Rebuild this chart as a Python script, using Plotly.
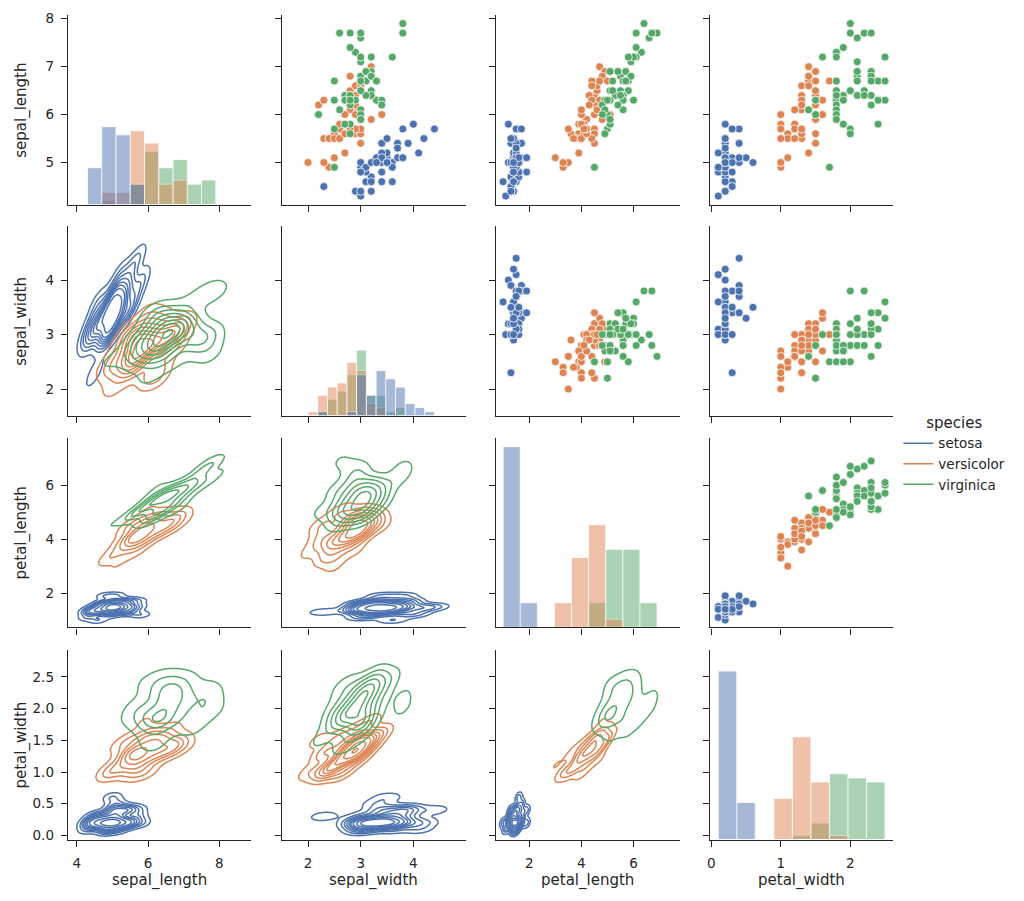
import numpy as np
import plotly.graph_objects as go

# ---------------- data (Fisher's iris, as in seaborn's iris.csv) ----------------
sepal_length = [
    5.1, 4.9, 4.7, 4.6, 5.0, 5.4, 4.6, 5.0, 4.4, 4.9, 5.4, 4.8, 4.8, 4.3, 5.8, 5.7, 5.4, 5.1, 5.7, 5.1,
    5.4, 5.1, 4.6, 5.1, 4.8, 5.0, 5.0, 5.2, 5.2, 4.7, 4.8, 5.4, 5.2, 5.5, 4.9, 5.0, 5.5, 4.9, 4.4, 5.1,
    5.0, 4.5, 4.4, 5.0, 5.1, 4.8, 5.1, 4.6, 5.3, 5.0,
    7.0, 6.4, 6.9, 5.5, 6.5, 5.7, 6.3, 4.9, 6.6, 5.2, 5.0, 5.9, 6.0, 6.1, 5.6, 6.7, 5.6, 5.8, 6.2, 5.6,
    5.9, 6.1, 6.3, 6.1, 6.4, 6.6, 6.8, 6.7, 6.0, 5.7, 5.5, 5.5, 5.8, 6.0, 5.4, 6.0, 6.7, 6.3, 5.6, 5.5,
    5.5, 6.1, 5.8, 5.0, 5.6, 5.7, 5.7, 6.2, 5.1, 5.7,
    6.3, 5.8, 7.1, 6.3, 6.5, 7.6, 4.9, 7.3, 6.7, 7.2, 6.5, 6.4, 6.8, 5.7, 5.8, 6.4, 6.5, 7.7, 7.7, 6.0,
    6.9, 5.6, 7.7, 6.3, 6.7, 7.2, 6.2, 6.1, 6.4, 7.2, 7.4, 7.9, 6.4, 6.3, 6.1, 7.7, 6.3, 6.4, 6.0, 6.9,
    6.7, 6.9, 5.8, 6.8, 6.7, 6.7, 6.3, 6.5, 6.2, 5.9,
]
sepal_width = [
    3.5, 3.0, 3.2, 3.1, 3.6, 3.9, 3.4, 3.4, 2.9, 3.1, 3.7, 3.4, 3.0, 3.0, 4.0, 4.4, 3.9, 3.5, 3.8, 3.8,
    3.4, 3.7, 3.6, 3.3, 3.4, 3.0, 3.4, 3.5, 3.4, 3.2, 3.1, 3.4, 4.1, 4.2, 3.1, 3.2, 3.5, 3.6, 3.0, 3.4,
    3.5, 2.3, 3.2, 3.5, 3.8, 3.0, 3.8, 3.2, 3.7, 3.3,
    3.2, 3.2, 3.1, 2.3, 2.8, 2.8, 3.3, 2.4, 2.9, 2.7, 2.0, 3.0, 2.2, 2.9, 2.9, 3.1, 3.0, 2.7, 2.2, 2.5,
    3.2, 2.8, 2.5, 2.8, 2.9, 3.0, 2.8, 3.0, 2.9, 2.6, 2.4, 2.4, 2.7, 2.7, 3.0, 3.4, 3.1, 2.3, 3.0, 2.5,
    2.6, 3.0, 2.6, 2.3, 2.7, 3.0, 2.9, 2.9, 2.5, 2.8,
    3.3, 2.7, 3.0, 2.9, 3.0, 3.0, 2.5, 2.9, 2.5, 3.6, 3.2, 2.7, 3.0, 2.5, 2.8, 3.2, 3.0, 3.8, 2.6, 2.2,
    3.2, 2.8, 2.8, 2.7, 3.3, 3.2, 2.8, 3.0, 2.8, 3.0, 2.8, 3.8, 2.8, 2.8, 2.6, 3.0, 3.4, 3.1, 3.0, 3.1,
    3.1, 3.1, 2.7, 3.2, 3.3, 3.0, 2.5, 3.0, 3.4, 3.0,
]
petal_length = [
    1.4, 1.4, 1.3, 1.5, 1.4, 1.7, 1.4, 1.5, 1.4, 1.5, 1.5, 1.6, 1.4, 1.1, 1.2, 1.5, 1.3, 1.4, 1.7, 1.5,
    1.7, 1.5, 1.0, 1.7, 1.9, 1.6, 1.6, 1.5, 1.4, 1.6, 1.6, 1.5, 1.5, 1.4, 1.5, 1.2, 1.3, 1.4, 1.3, 1.5,
    1.3, 1.3, 1.3, 1.6, 1.9, 1.4, 1.6, 1.4, 1.5, 1.4,
    4.7, 4.5, 4.9, 4.0, 4.6, 4.5, 4.7, 3.3, 4.6, 3.9, 3.5, 4.2, 4.0, 4.7, 3.6, 4.4, 4.5, 4.1, 4.5, 3.9,
    4.8, 4.0, 4.9, 4.7, 4.3, 4.4, 4.8, 5.0, 4.5, 3.5, 3.8, 3.7, 3.9, 5.1, 4.5, 4.5, 4.7, 4.4, 4.1, 4.0,
    4.4, 4.6, 4.0, 3.3, 4.2, 4.2, 4.2, 4.3, 3.0, 4.1,
    6.0, 5.1, 5.9, 5.6, 5.8, 6.6, 4.5, 6.3, 5.8, 6.1, 5.1, 5.3, 5.5, 5.0, 5.1, 5.3, 5.5, 6.7, 6.9, 5.0,
    5.7, 4.9, 6.7, 4.9, 5.7, 6.0, 4.8, 4.9, 5.6, 5.8, 6.1, 6.4, 5.6, 5.1, 5.6, 6.1, 5.6, 5.5, 4.8, 5.4,
    5.6, 5.1, 5.1, 5.9, 5.7, 5.2, 5.0, 5.2, 5.4, 5.1,
]
petal_width = [
    0.2, 0.2, 0.2, 0.2, 0.2, 0.4, 0.3, 0.2, 0.2, 0.1, 0.2, 0.2, 0.1, 0.1, 0.2, 0.4, 0.4, 0.3, 0.3, 0.3,
    0.2, 0.4, 0.2, 0.5, 0.2, 0.2, 0.4, 0.2, 0.2, 0.2, 0.2, 0.4, 0.1, 0.2, 0.2, 0.2, 0.2, 0.1, 0.2, 0.2,
    0.3, 0.3, 0.2, 0.6, 0.4, 0.3, 0.2, 0.2, 0.2, 0.2,
    1.4, 1.5, 1.5, 1.3, 1.5, 1.3, 1.6, 1.0, 1.3, 1.4, 1.0, 1.5, 1.0, 1.4, 1.3, 1.4, 1.5, 1.0, 1.5, 1.1,
    1.8, 1.3, 1.5, 1.2, 1.3, 1.4, 1.4, 1.7, 1.5, 1.0, 1.1, 1.0, 1.2, 1.6, 1.5, 1.6, 1.5, 1.3, 1.3, 1.3,
    1.2, 1.4, 1.2, 1.0, 1.3, 1.2, 1.3, 1.3, 1.1, 1.3,
    2.5, 1.9, 2.1, 1.8, 2.2, 2.1, 1.7, 1.8, 1.8, 2.5, 2.0, 1.9, 2.1, 2.0, 2.4, 2.3, 1.8, 2.2, 2.3, 1.5,
    2.3, 2.0, 2.0, 1.8, 2.1, 1.8, 1.8, 1.8, 2.1, 1.6, 1.9, 2.0, 2.2, 1.5, 1.4, 2.3, 2.4, 1.8, 1.8, 2.1,
    2.4, 2.3, 1.9, 2.3, 2.5, 2.3, 1.9, 2.0, 2.3, 1.8,
]
species_names = ["setosa", "versicolor", "virginica"]
species_sizes = [50, 50, 50]
species = [name for name, k in zip(species_names, species_sizes) for _ in range(k)]

variables = ["sepal_length", "sepal_width", "petal_length", "petal_width"]
x_tick_values = {
    "sepal_length": [4, 6, 8],
    "sepal_width": [2, 3, 4],
    "petal_length": [2, 4, 6],
    "petal_width": [0, 1, 2],
}
y_tick_values = {
    "sepal_length": [5, 6, 7, 8],
    "sepal_width": [2, 3, 4],
    "petal_length": [2, 4, 6],
    "petal_width": [0.0, 0.5, 1.0, 1.5, 2.0, 2.5],
}
y_tick_text = {
    "sepal_length": ["5", "6", "7", "8"],
    "sepal_width": ["2", "3", "4"],
    "petal_length": ["2", "4", "6"],
    "petal_width": ["0.0", "0.5", "1.0", "1.5", "2.0", "2.5"],
}

# ---------------- style ----------------
palette = {"setosa": "#4C72B0", "versicolor": "#DD8452", "virginica": "#55A868"}
FONT = "DejaVu Sans"
INK = "#262626"
W, H = 1024, 901
col_left = [65, 280, 494.5, 709]
col_w = 184
row_top = [11, 224, 437.5, 651.5]
row_h = 191.5

data = {
    "sepal_length": np.array(sepal_length),
    "sepal_width": np.array(sepal_width),
    "petal_length": np.array(petal_length),
    "petal_width": np.array(petal_width),
}
sp = np.array(species)


# ---------------- KDE (seaborn-like: scott bw, cut=3, gridsize=200) ----------------
def kde2d(xd, yd, cut=3, gridsize=200):
    pts_data = np.vstack([xd, yd])
    n = pts_data.shape[1]
    factor = n ** (-1.0 / 6.0)
    cov = np.cov(pts_data) * factor ** 2
    bw = np.sqrt(np.diag(cov))
    gx = np.linspace(xd.min() - cut * bw[0], xd.max() + cut * bw[0], gridsize)
    gy = np.linspace(yd.min() - cut * bw[1], yd.max() + cut * bw[1], gridsize)
    XX, YY = np.meshgrid(gx, gy)
    inv = np.linalg.inv(cov)
    norm = 1.0 / (n * np.sqrt(np.linalg.det(2 * np.pi * cov)))
    dens = np.zeros(XX.shape)
    for i in range(n):
        d0 = XX - xd[i]
        d1 = YY - yd[i]
        q = inv[0, 0] * d0 * d0 + 2 * inv[0, 1] * d0 * d1 + inv[1, 1] * d1 * d1
        dens += np.exp(-0.5 * q)
    return gx, gy, dens * norm


def quantile_to_level(arrs, iso):
    values = np.ravel(arrs)
    sorted_values = np.sort(values)[::-1]
    normalized = np.cumsum(sorted_values) / values.sum()
    idx = np.searchsorted(normalized, 1 - np.asarray(iso))
    return np.take(sorted_values, idx, mode="clip")


iso_levels = np.linspace(0.05, 1, 10)

kde_panels = {}
extent = {v: [np.inf, -np.inf] for v in variables}
extent_y = {v: [np.inf, -np.inf] for v in variables}
for r in range(4):
    for c in range(4):
        if r > c:
            vx, vy = variables[c], variables[r]
            res = {}
            for s in species_names:
                m = sp == s
                gx, gy, dens = kde2d(data[vx][m], data[vy][m])
                dens = dens * m.sum() / len(sp)
                res[s] = (gx, gy, dens)
                extent[vx][0] = min(extent[vx][0], gx[0]); extent[vx][1] = max(extent[vx][1], gx[-1])
                extent_y[vy][0] = min(extent_y[vy][0], gy[0]); extent_y[vy][1] = max(extent_y[vy][1], gy[-1])
            levels = quantile_to_level([res[s][2] for s in species_names], iso_levels)
            kde_panels[(r, c)] = (res, np.sort(levels))


def margin_range(v):
    lo, hi = data[v].min(), data[v].max()
    pad = 0.05 * (hi - lo)
    return [lo - pad, hi + pad]


x_range = {}
y_range = {}
for v in variables:
    x_range[v] = list(extent[v]) if np.isfinite(extent[v][0]) else margin_range(v)
    y_range[v] = list(extent_y[v]) if np.isfinite(extent_y[v][0]) else margin_range(v)

# histograms (common bins over all species)
hist = {}
max_count = 0
for v in variables:
    edges = np.histogram_bin_edges(data[v], bins="auto")
    counts = {s: np.histogram(data[v][sp == s], bins=edges)[0] for s in species_names}
    hist[v] = (edges, counts)
    max_count = max(max_count, max(cnt.max() for cnt in counts.values()))

# ---------------- figure ----------------
fig = go.Figure()
layout = dict(
    width=W, height=H,
    margin=dict(l=0, r=0, t=0, b=0),
    paper_bgcolor="white", plot_bgcolor="rgba(0,0,0,0)",
    font=dict(family=FONT, color=INK, size=13.5),
    barmode="overlay",
    showlegend=True,
)


def axname(k, letter):
    return letter if k == 1 else f"{letter}{k}"


common = dict(
    showline=True, linecolor=INK, linewidth=1.25, mirror=False,
    ticks="outside", ticklen=6, tickwidth=1.25, tickcolor=INK,
    showgrid=False, zeroline=False,
    tickfont=dict(family=FONT, size=13.5, color=INK),
)

annotations = []
for r in range(4):
    for c in range(4):
        k = r * 4 + c + 1
        xn, yn = axname(k, "x"), axname(k, "y")
        vx, vy = variables[c], variables[r]
        ydom = [1 - (row_top[r] + row_h) / H, 1 - row_top[r] / H]
        layout["xaxis" if k == 1 else f"xaxis{k}"] = dict(
            domain=[col_left[c] / W, (col_left[c] + col_w) / W],
            anchor=yn, range=x_range[vx],
            tickvals=x_tick_values[vx], ticktext=[str(t) for t in x_tick_values[vx]],
            showticklabels=(r == 3), ticklabelstandoff=5, **common,
        )
        layout["yaxis" if k == 1 else f"yaxis{k}"] = dict(
            domain=ydom, anchor=xn, range=y_range[vy],
            tickvals=y_tick_values[vy], ticktext=y_tick_text[vy],
            showticklabels=(c == 0), ticklabelstandoff=4, **common,
        )

        if r == c:
            # placeholder so the cell's own (row-scaled) axes form a real subplot
            fig.add_trace(go.Scatter(x=[None], y=[None], mode="markers",
                                     xaxis=xn, yaxis=yn, showlegend=False,
                                     hoverinfo="skip"))
            # hidden count axis laid over the cell for the histogram
            ov = 16 + r + 1
            layout[f"yaxis{ov}"] = dict(
                overlaying=yn, anchor=xn, domain=ydom, range=[0, max_count * 1.05],
                visible=False, showgrid=False, zeroline=False,
            )
            edges, counts = hist[vx]
            centers = (edges[:-1] + edges[1:]) / 2
            widths = np.diff(edges)
            for s in reversed(species_names):
                fig.add_trace(go.Bar(
                    x=centers, y=counts[s], width=widths,
                    marker=dict(color=palette[s], opacity=0.5,
                                line=dict(color="white", width=0.8)),
                    xaxis=xn, yaxis=f"y{ov}", showlegend=False, hoverinfo="skip",
                ))
        elif r < c:
            for s in species_names:
                m = sp == s
                fig.add_trace(go.Scatter(
                    x=data[vx][m], y=data[vy][m], mode="markers",
                    marker=dict(color=palette[s], size=8,
                                line=dict(color="white", width=0.75)),
                    xaxis=xn, yaxis=yn, showlegend=False, hoverinfo="skip",
                ))
        else:
            res, levels = kde_panels[(r, c)]
            xp = np.concatenate([[0.0], levels])
            fp = np.arange(len(xp), dtype=float)
            for s in species_names:
                gx, gy, dens = res[s]
                zt = np.interp(dens, xp, fp).astype(np.float32)
                fig.add_trace(go.Contour(
                    x=gx.astype(np.float32), y=gy.astype(np.float32), z=zt,
                    contours=dict(start=1, end=len(levels) - 1, size=1, coloring="lines"),
                    colorscale=[[0, palette[s]], [1, palette[s]]],
                    line=dict(width=1.5, smoothing=0.8),
                    showscale=False, xaxis=xn, yaxis=yn,
                    showlegend=False, hoverinfo="skip",
                ))

# axis titles
for c, v in enumerate(variables):
    annotations.append(dict(
        text=v, x=(col_left[c] + col_w / 2) / W, y=1 - 884 / H,
        xref="paper", yref="paper", xanchor="center", yanchor="middle",
        showarrow=False, font=dict(family=FONT, size=15, color=INK),
    ))
for r, v in enumerate(variables):
    annotations.append(dict(
        text=v, x=19 / W, y=1 - (row_top[r] + row_h / 2) / H,
        xref="paper", yref="paper", xanchor="center", yanchor="middle",
        textangle=-90, showarrow=False, font=dict(family=FONT, size=15, color=INK),
    ))
layout["annotations"] = annotations

# legend entries
for s in species_names:
    fig.add_trace(go.Scatter(
        x=[None], y=[None], mode="lines", name=s,
        line=dict(color=palette[s], width=1.5),
        xaxis="x2", yaxis="y2", showlegend=True,
    ))

layout["legend"] = dict(
    x=898 / W, y=1 - 408 / H, xanchor="left", yanchor="top",
    bgcolor="rgba(0,0,0,0)", borderwidth=0,
    font=dict(family=FONT, size=13.5, color=INK),
    title=dict(text="species", side="top center", font=dict(family=FONT, size=15, color=INK)),
    itemwidth=30, tracegroupgap=0,
)

fig.update_layout(**layout)
fig.write_html("out.html")
